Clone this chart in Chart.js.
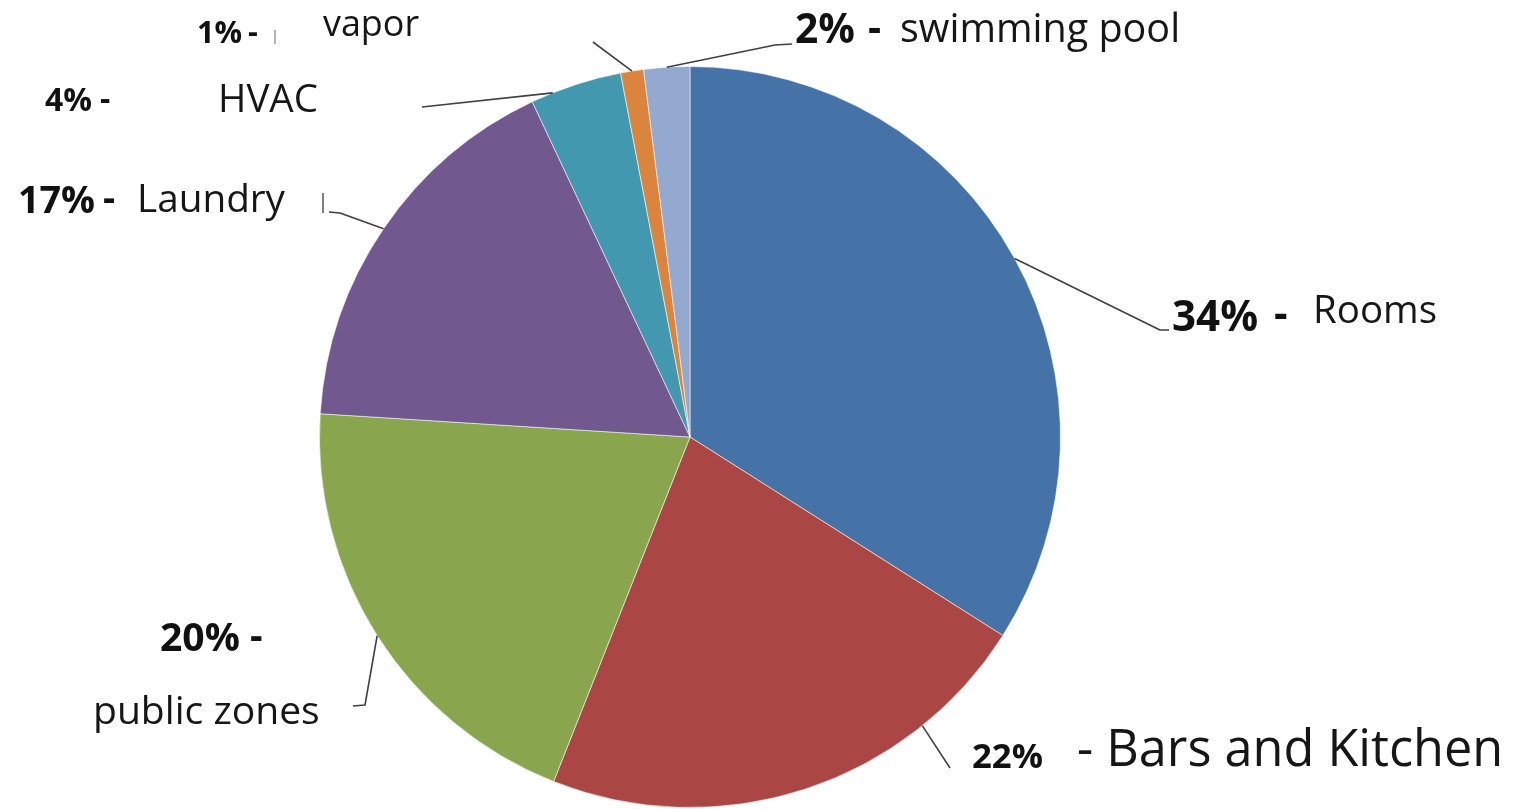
<!DOCTYPE html>
<html>
<head>
<meta charset="utf-8">
<script src="https://cdn.jsdelivr.net/npm/chart.js@4.4.1/dist/chart.umd.min.js"></script>
<style>
  html, body { margin: 0; padding: 0; background: #ffffff; overflow: hidden; }
  canvas { display: block; }
</style>
</head>
<body>
<canvas id="chart" width="1521" height="809"></canvas>
<script>
// Water consumption by area (percent of total)
const categories = ['Rooms', 'Bars and Kitchen', 'public zones', 'Laundry', 'HVAC', 'vapor', 'swimming pool'];
const shares = [34, 22, 20, 17, 4, 1, 2];
const sliceColors = ['#4572A7', '#AA4643', '#89A54E', '#71588F', '#4198AF', '#DB843D', '#93A9CF'];

// Label placement: percent text box (left x, baseline y, width), dash, name text box,
// where the leader touches the rim (fraction across the slice) and the rest of its path.
const labelLayout = [
  { pct: { x: 1172, y: 331, w: 86 }, dash: { x: 1274, y: 328 }, name: { x: 1313, y: 323, w: 124 }, prefix: '',
    anchor: 0.5, leader: [[1160, 330], [1169, 330]] },
  { pct: { x: 972, y: 768, w: 71 }, dash: null, name: { x: 1077, y: 766, w: 426 }, prefix: '- ',
    anchor: 0.237, leader: [[950, 768]] },
  { pct: { x: 160, y: 651, w: 80 }, dash: { x: 250, y: 649 }, name: { x: 93, y: 724, w: 227 }, prefix: '',
    anchor: 0.5, leader: [[365, 705], [353, 706]] },
  { pct: { x: 18, y: 213, w: 77 }, dash: { x: 103, y: 211 }, name: { x: 137, y: 212, w: 148 }, prefix: '',
    anchor: 0.5, leader: [[340, 213], [329, 212]] },
  { pct: { x: 45, y: 111, w: 47 }, dash: { x: 100, y: 110 }, name: { x: 218, y: 112, w: 100 }, prefix: '',
    anchor: 0.24, leader: [[422, 107]] },
  { pct: { x: 197, y: 43, w: 45 }, dash: { x: 248, y: 42 }, name: { x: 323, y: 36, w: 96 }, prefix: '',
    anchor: 0.5, leader: [[593, 42]] },
  { pct: { x: 795, y: 43, w: 60 }, dash: { x: 868, y: 42 }, name: { x: 900, y: 42, w: 280 }, prefix: '',
    anchor: 0.5, leader: [[775, 45], [792, 44]] }
];

// stray text-cursor marks next to two of the labels
const cursorMarks = [
  { x: 275, y1: 30, y2: 44, color: '#9a9a9a' },
  { x: 323, y1: 193, y2: 213, color: '#555555' }
];

const FONT = '"Open Sans", "Noto Sans", sans-serif';

function fitFont(ctx, text, weight, width) {
  ctx.font = weight + ' 100px ' + FONT;
  const w = ctx.measureText(text).width;
  return 100 * width / w;
}

const pieLabels = {
  id: 'pieLabels',
  afterDatasetsDraw(chart) {
    const ctx = chart.ctx;
    const meta = chart.getDatasetMeta(0);
    ctx.save();
    // leader lines
    ctx.strokeStyle = '#404040';
    ctx.lineWidth = 1.6;
    ctx.lineJoin = 'round';
    meta.data.forEach((arc, i) => {
      const p = arc.getProps(['x', 'y', 'startAngle', 'endAngle', 'outerRadius'], true);
      const L = labelLayout[i];
      const a = p.startAngle + L.anchor * (p.endAngle - p.startAngle);
      ctx.beginPath();
      ctx.moveTo(p.x + p.outerRadius * Math.cos(a), p.y + p.outerRadius * Math.sin(a));
      L.leader.forEach(([x, y]) => ctx.lineTo(x, y));
      ctx.stroke();
    });
    // texts
    ctx.textBaseline = 'alphabetic';
    ctx.textAlign = 'left';
    shares.forEach((v, i) => {
      const L = labelLayout[i];
      const pctText = v + '%';
      const ps = fitFont(ctx, pctText, 'bold', L.pct.w);
      ctx.font = 'bold ' + ps.toFixed(1) + 'px ' + FONT;
      ctx.fillStyle = '#111111';
      ctx.fillText(pctText, L.pct.x, L.pct.y);
      if (L.dash) ctx.fillText('-', L.dash.x, L.dash.y);
      const nameText = L.prefix + categories[i];
      const ns = fitFont(ctx, nameText, 'normal', L.name.w);
      ctx.font = 'normal ' + ns.toFixed(1) + 'px ' + FONT;
      ctx.fillStyle = '#161616';
      ctx.fillText(nameText, L.name.x, L.name.y);
    });
    cursorMarks.forEach(m => {
      ctx.strokeStyle = m.color;
      ctx.lineWidth = 1.5;
      ctx.beginPath();
      ctx.moveTo(m.x, m.y1);
      ctx.lineTo(m.x, m.y2);
      ctx.stroke();
    });
    ctx.restore();
  }
};

new Chart(document.getElementById('chart'), {
  type: 'pie',
  data: {
    labels: categories,
    datasets: [{
      data: shares,
      backgroundColor: sliceColors,
      borderColor: 'rgba(255,255,255,0.55)',
      borderWidth: 1
    }]
  },
  options: {
    responsive: false,
    animation: false,
    layout: { padding: { left: 319, right: 460, top: 66, bottom: 1 } },
    plugins: {
      legend: { display: false },
      tooltip: { enabled: false }
    }
  },
  plugins: [pieLabels]
});
</script>
</body>
</html>
